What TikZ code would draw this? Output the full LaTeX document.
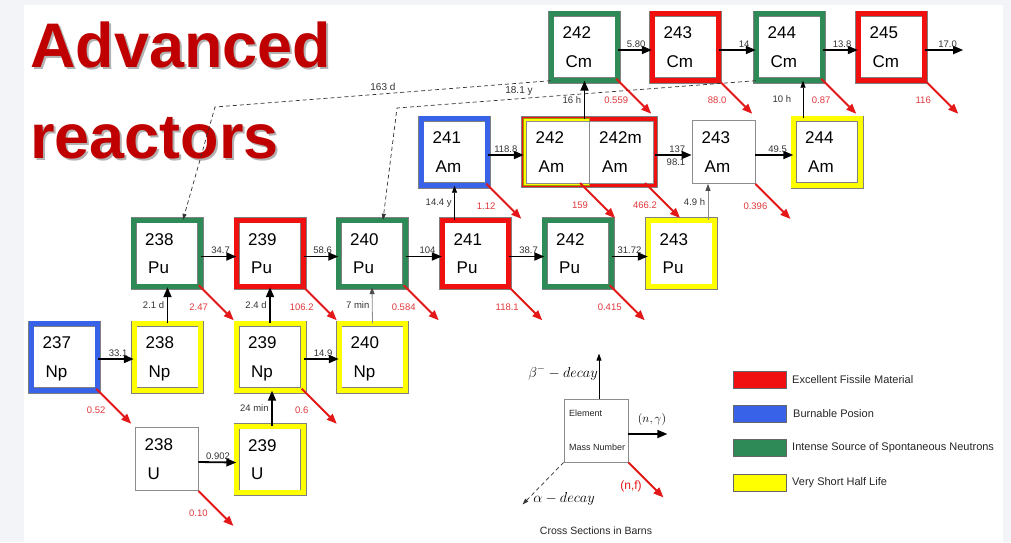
\documentclass[tikz,border=0pt]{standalone}
\usepackage{fontspec}
\setmainfont{Liberation Sans}
\usetikzlibrary{arrows.meta,calc}
\definecolor{bggray}{RGB}{242,244,247}
\definecolor{fred}{RGB}{240,16,16}
\definecolor{fgreen}{RGB}{46,139,87}
\definecolor{fblue}{RGB}{56,98,232}
\definecolor{fyellow}{RGB}{255,255,0}
\definecolor{lblred}{RGB}{224,56,60}
\definecolor{arrred}{RGB}{228,24,24}
\definecolor{titlered}{RGB}{192,0,0}
\definecolor{titleshade}{RGB}{178,178,178}
\definecolor{labgray}{RGB}{51,51,51}
\tikzset{
  isobox/.style={rectangle, draw=black!50, line width=0.6pt, double distance=5pt, fill=white, minimum size=66.8pt, inner sep=0pt},
  plainbox/.style={rectangle, draw=black!45, line width=0.8pt, fill=white, inner sep=0pt},
  masstext/.style={anchor=west, inner sep=0pt, font=\fontsize{17}{17}\selectfont, text height=12.2pt, text depth=0pt},
  thickarrow/.style={line width=1.8pt, -{Triangle[length=10pt,width=8pt]}},
  thinarrow/.style={line width=0.8pt, -{Triangle[length=7pt,width=5pt]}},
  grayarrow/.style={line width=0.8pt, draw=black!45, -{Triangle[length=7pt,width=5pt,color=black!70]}},
  redarrow/.style={line width=1.8pt, draw=arrred, -{Triangle[length=10pt,width=8pt]}},
  dasharrow/.style={line width=0.7pt, draw=black!80, dash pattern=on 4pt off 3pt, -{Triangle[length=6pt,width=4pt]}},
  hlab/.style={anchor=south east, inner sep=0.5pt, xshift=-5pt, yshift=1.5pt, font=\fontsize{9.5}{9.5}\selectfont, text=labgray},
  hlabb/.style={anchor=north east, inner sep=0.5pt, xshift=-5pt, yshift=-2pt, font=\fontsize{9.5}{9.5}\selectfont, text=labgray},
  vlab/.style={anchor=east, inner sep=1pt, xshift=-1.5pt, font=\fontsize{9.5}{9.5}\selectfont, text=labgray},
  rlab/.style={inner sep=0pt, font=\fontsize{9.5}{9.5}\selectfont, text=lblred},
  dlab/.style={anchor=south, inner sep=1pt, yshift=2pt, font=\fontsize{10}{10}\selectfont, text=labgray},
  swatch/.style={rectangle, draw=black!60, line width=0.6pt, minimum width=53pt, minimum height=17pt, inner sep=0pt},
  legtext/.style={anchor=west, inner sep=0pt, font=\fontsize{11}{11}\selectfont, text=black!85},
  keytext/.style={anchor=west, inner sep=0pt, font=\fontsize{9}{9}\selectfont, text=black!85},
  titletext/.style={anchor=base west, inner sep=0pt, font=\fontsize{63}{63}\selectfont\bfseries, text=titlered},
}
\newcommand\shadowed[1]{\makebox[0pt][l]{\hspace{2pt}\raisebox{-2pt}{\color{titleshade}#1}}#1}
\newcommand\isolbl[3]{%
  \node[masstext] (#1-a) at ([xshift=-22pt,yshift=14.5pt]#1.center) {#2};
  \node[masstext] (#1-s) at ([xshift=-19pt,yshift=-14pt]#1.center) {#3};
}
\newcommand\iso[6]{%
  \node[isobox, double=#4] (#1) at (#2,#3) {};
  \isolbl{#1}{#5}{#6}%
}
\newcommand\plainiso[5]{%
  \node[plainbox, minimum size=63pt] (#1) at (#2,#3) {};
  \isolbl{#1}{#4}{#5}%
}
\newcommand\fisat[2]{%
  \draw[redarrow] (#1) -- ++(35,35);
  \node[rlab] (#1-l) at ([yshift=-22pt]#1) {#2};
}
\newcommand\fis[2]{%
  \coordinate (#1-f) at ([xshift=-2pt,yshift=2pt]#1.south east);
  \fisat{#1-f}{#2}%
}
\begin{document}
\begin{tikzpicture}[x=1pt,y=-1pt]
\useasboundingbox (0,0) rectangle (1011,542);
\fill[bggray] (0,0) rectangle (1011,542);
\fill[white] (24,5) rectangle (1003,542);

% title
\node[titletext] (t1) at (30,67) {\shadowed{Advanced}};
\node[titletext] (t2) at (30,158.5) {\shadowed{reactors}};

% dashed alpha decay corner points
\coordinate (k1) at (215,107);
\coordinate (k2) at (397,108);

% Cm row
\iso{c242}{584.5}{47}{fgreen}{242}{Cm}
\iso{c243}{685.5}{47}{fred}{243}{Cm}
\iso{c244}{789.5}{47}{fgreen}{244}{Cm}
\iso{c245}{891.5}{47}{fred}{245}{Cm}

% Am row
\iso{a241}{454.5}{152}{fblue}{241}{Am}
\node[rectangle, draw=black!50, line width=0.6pt, double=fred, double distance=5pt, fill=white, minimum width=130.8pt, minimum height=65.8pt, inner sep=0pt] (amframe) at (589.5,152) {};
\node[rectangle, fill=fyellow, draw=fyellow!60!black, line width=0.4pt, minimum width=65.5pt, minimum height=67pt, inner sep=0pt] (am242y) at (556.25,152) {};
\node[plainbox, minimum width=63pt, minimum height=62pt] (am242) at (557.5,152) {};
\node[plainbox, minimum width=64pt, minimum height=62pt] (am242m) at (621,152) {};
\isolbl{am242}{242}{Am}
\isolbl{am242m}{242m}{Am}
\plainiso{a243}{723.5}{152}{243}{Am}
\iso{a244}{827}{152}{fyellow}{244}{Am}

% Pu row
\iso{p238}{167}{253.5}{fgreen}{238}{Pu}
\iso{p239}{270}{253.5}{fred}{239}{Pu}
\iso{p240}{372}{253.5}{fgreen}{240}{Pu}
\iso{p241}{475.5}{253.5}{fred}{241}{Pu}
\iso{p242}{578}{253.5}{fgreen}{242}{Pu}
\iso{p243}{681.5}{253.5}{fyellow}{243}{Pu}

% Np row
\iso{n237}{64.5}{357}{fblue}{237}{Np}
\iso{n238}{167.5}{357}{fyellow}{238}{Np}
\iso{n239}{270}{357}{fyellow}{239}{Np}
\iso{n240}{372.5}{357}{fyellow}{240}{Np}

% U row
\plainiso{u238}{166.5}{459}{238}{U}
\iso{u239}{270}{459.5}{fyellow}{239}{U}

% dashed alpha-decay arrows
\draw[dasharrow] (c242.south west) -- node[dlab, pos=0.5] (lbl163) {163 d} (k1) -- ([xshift=16pt]p238.north);
\draw[dasharrow] (c244.south west) -- node[dlab, pos=0.66] (lbl181) {18.1 y} (k2) -- ([xshift=11pt]p240.north);

% horizontal (n,gamma) arrows
\draw[thickarrow] ([yshift=-3pt]c242.east) -- ([yshift=-3pt]c243.west) node[hlab,pos=1] (h1) {5.80};
\draw[thickarrow] ([yshift=-3pt]c243.east) -- ([yshift=-3pt]c244.west) node[hlab,pos=1] (h2) {14};
\draw[thickarrow] ([yshift=-3pt]c244.east) -- ([yshift=-3pt]c245.west) node[hlab,pos=1] (h3) {13.8};
\draw[thickarrow] ([yshift=-3pt]c245.east) -- ++(38,0) coordinate (c245out) node[hlab,pos=1] (h4) {17.0};
\draw[thickarrow] ([yshift=-3pt]a241.east) -- ([yshift=-3pt]amframe.west) node[hlab,pos=1] (h5) {118.8};
\draw[thickarrow] ([yshift=-3pt]amframe.east) -- ([yshift=-3pt]a243.west) node[hlab,pos=1] (h6) {137} node[hlabb,pos=1] (h6b) {98.1};
\draw[thickarrow] ([yshift=-3pt]a243.east) -- ([yshift=-3pt]a244.west) node[hlab,pos=1] (h7) {49.5};
\draw[thickarrow] ([yshift=-3pt]p238.east) -- ([yshift=-3pt]p239.west) node[hlab,pos=1] (h8) {34.7};
\draw[thickarrow] ([yshift=-3pt]p239.east) -- ([yshift=-3pt]p240.west) node[hlab,pos=1] (h9) {58.6};
\draw[thickarrow] ([yshift=-3pt]p240.east) -- ([yshift=-3pt]p241.west) node[hlab,pos=1] (h10) {104};
\draw[thickarrow] ([yshift=-3pt]p241.east) -- ([yshift=-3pt]p242.west) node[hlab,pos=1] (h11) {38.7};
\draw[thickarrow] ([yshift=-3pt]p242.east) -- ([yshift=-3pt]p243.west) node[hlab,pos=1] (h12) {31.72};
\draw[thickarrow] ([yshift=-2pt]n237.east) -- ([yshift=-2pt]n238.west) node[hlab,pos=1] (h13) {33.1};
\draw[thickarrow] ([yshift=-2pt]n239.east) -- ([yshift=-2pt]n240.west) node[hlab,pos=1] (h14) {14.9};
\draw[thickarrow] ([yshift=-3pt]u238.east) -- ([yshift=-3pt]u239.west) node[hlab,pos=1] (h15) {0.902};

% vertical (beta decay) arrows
\draw[thickarrow] (n238.north) -- (n238.north |- p238.south) node[vlab,midway] (v1) {2.1 d};
\draw[thickarrow] (n239.north) -- (p239.south) node[vlab,midway] (v2) {2.4 d};
\draw[grayarrow] (n240.north) -- (p240.south) node[vlab,midway] (v3) {7 min};
\draw[thickarrow] ([xshift=2pt]u239.north) -- ([xshift=2pt]n239.south) node[vlab,midway] (v4) {24 min};
\draw[thinarrow] (a241.south |- p241.north) -- (a241.south) node[vlab,midway] (v5) {14.4 y};
\draw[grayarrow] ([xshift=26.5pt]p243.north) -- ([xshift=26.5pt]p243.north |- a243.south) node[vlab,midway] (v6) {4.9 h};
\draw[thickarrow] (c242.south |- amframe.north) -- (c242.south) node[vlab,midway] (v7) {16 h};
\draw[thinarrow] ([xshift=-24pt]a244.north) -- ([xshift=-24pt]a244.north |- c244.south) node[vlab,midway,xshift=-9pt] (v8) {10 h};

% fission arrows
\fis{c242}{0.559}
\fis{c243}{88.0}
\fis{c244}{0.87}
\fis{c245}{116}
\fis{a241}{1.12}
\coordinate (am242f) at (580,183);
\fisat{am242f}{159}
\coordinate (am242mf) at (645,183);
\fisat{am242mf}{466.2}
\coordinate (a243f) at (a243.south east);
\fisat{a243f}{0.396}
\fis{p238}{2.47}
\fis{p239}{106.2}
\fis{p240}{0.584}
\fis{p241}{118.1}
\fis{p242}{0.415}
\fis{n237}{0.52}
\fis{n239}{0.6}
\coordinate (u238f) at (u238.south east);
\fisat{u238f}{0.10}

% key
\node[plainbox, minimum width=64pt, minimum height=63pt] (key) at (596,430.5) {};
\node[keytext] (keyel) at (569,413) {Element};
\node[keytext] (keymn) at (569,447) {Mass Number};
\draw[thinarrow] ([xshift=3pt]key.north) -- ++(0,-45) coordinate (keyup);
\node[anchor=east, inner sep=1pt, font=\fontsize{14}{14}\selectfont] (keybeta) at (599,373) {$\beta^{-}-decay$};
\draw[thickarrow] ([yshift=-3.5pt]key.east) -- ++(39,0) coordinate (keyright);
\node[inner sep=0pt, font=\fontsize{13}{13}\selectfont] (keyng) at (652,419) {$(n,\gamma)$};
\draw[redarrow] (key.south east) -- ++(35,35) coordinate (keyfis);
\node[inner sep=0pt, font=\fontsize{12}{12}\selectfont, text=arrred] (keynf) at (631,486) {(n,f)};
\draw[dasharrow] (key.south west) -- ++(-41,42) coordinate (keyalpha);
\node[inner sep=0pt, font=\fontsize{14}{14}\selectfont] (keyal) at (564,499) {$\alpha-decay$};
\node[inner sep=0pt, font=\fontsize{10.5}{10.5}\selectfont, text=black!85] (keycs) at (596,531) {Cross Sections in Barns};

% legend
\node[swatch, fill=fred] (lg1) at (759.5,379.5) {};
\node[swatch, fill=fblue] (lg2) at (759.5,414) {};
\node[swatch, fill=fgreen] (lg3) at (759.5,448) {};
\node[swatch, fill=fyellow] (lg4) at (759.5,482.5) {};
\node[legtext] (lt1) at (792,379.5) {Excellent Fissile Material};
\node[legtext] (lt2) at (793,414) {Burnable Posion};
\node[legtext] (lt3) at (792,448) {Intense Source of Spontaneous Neutrons};
\node[legtext] (lt4) at (792,482.5) {Very Short Half Life};
\end{tikzpicture}
\end{document}
